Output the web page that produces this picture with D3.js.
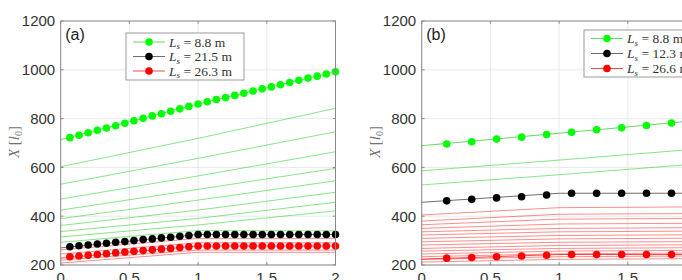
<!DOCTYPE html>
<html>
<head>
<meta charset="utf-8">
<script src="https://cdn.jsdelivr.net/npm/d3@7"></script>
<style>
  body { margin: 0; background: #fff; }
  svg { display: block; }
</style>
</head>
<body>
<script>
// shared axes
var lineX = [0, 1, 2];
var xTicks = [0, 0.5, 1, 1.5, 2];
var yTicks = [200, 400, 600, 800, 1000, 1200];

// panel (a)
var markXA = [0.067, 0.133, 0.2, 0.267, 0.333, 0.4, 0.467, 0.533, 0.6, 0.667,
              0.733, 0.8, 0.867, 0.933, 1.0, 1.067, 1.133, 1.2, 1.267, 1.333,
              1.4, 1.467, 1.533, 1.6, 1.667, 1.733, 1.8, 1.867, 1.933, 2.0];
var greenDotsA = [722, 732, 742, 752, 761, 771, 781, 791, 801, 811, 820, 830, 840, 850, 860,
                  869, 878, 886, 895, 904, 913, 922, 930, 939, 948, 957, 966, 974, 983, 992];
var blackDotsA = [275, 279, 282, 286, 289, 293, 296, 300, 304, 307, 311, 314, 318, 321, 325,
                  325, 325, 325, 325, 325, 325, 325, 325, 325, 325, 325, 325, 325, 325, 325];
var redDotsA = [234, 237, 240, 243, 246, 250, 253, 256, 259, 262, 265, 268, 272, 275, 278,
                278, 278, 278, 278, 278, 278, 278, 278, 278, 278, 278, 278, 278, 278, 278];
var greenLineA = [714, 860, 992];
var blackLineA = [270, 325, 325];
var redLineA = [228, 278, 278];
var greenFanA = [[603, 719, 842], [531, 637, 746], [470, 565, 664], [425, 510, 596],
                 [390, 466, 545], [362, 425, 498], [337, 391, 457], [315, 364, 422],
                 [293, 341, 340]];
var redFanA = [[262, 309, 309], [245, 291, 291], [220, 261, 261], [208, 252, 252]];
var legendA = ["8.8", "21.5", "26.3"];

// panel (b)
var markXB = [0.182, 0.364, 0.545, 0.727, 0.909, 1.091, 1.273, 1.455, 1.636, 1.818, 2.0];
var greenDotsB = [696, 705, 716, 724, 735, 744, 754, 762, 772, 782, 792];
var blackDotsB = [463, 469, 475, 480, 487, 494, 494, 494, 494, 494, 494];
var redDotsB = [228, 231, 234, 237, 240, 243, 243, 243, 243, 243, 243];
var greenLineB = [689, 740, 792];
var blackLineB = [457, 494, 494];
var redLineB = [224, 243, 243];
var greenFanB = [[586, 630, 675], [528, 570, 614]];
var redFanB = [[405, 435, 438], [380, 408, 411], [365, 388, 391], [350, 368, 371],
               [336, 350, 353], [323, 336, 339], [309, 321, 324], [295, 307, 310],
               [282, 293, 296], [268, 280, 283], [257, 268, 271], [245, 257, 260],
               [234, 246, 249], [223, 234, 237], [212, 223, 226]];
var legendB = ["8.8", "12.3", "26.6"];

var GREEN = "#00ff00", BLACK = "#000000", RED = "#ff0000";

var svg = d3.select("body").append("svg")
    .attr("width", 682)
    .attr("height", 280);

function panel(cfg) {
  var x = d3.scaleLinear().domain([0, 2]).range([cfg.left, cfg.left + 274.8]);
  var y = d3.scaleLinear().domain([200, 1200]).range([265, 21]);
  var g = svg.append("g");

  // grid
  g.selectAll(".gx").data(xTicks).enter().append("line")
      .attr("x1", function(d) { return x(d); }).attr("x2", function(d) { return x(d); })
      .attr("y1", y(200)).attr("y2", y(1200))
      .attr("stroke", "#e3e3e3").attr("stroke-width", 0.8);
  g.selectAll(".gy").data(yTicks).enter().append("line")
      .attr("x1", x(0)).attr("x2", x(2))
      .attr("y1", function(d) { return y(d); }).attr("y2", function(d) { return y(d); })
      .attr("stroke", "#e3e3e3").attr("stroke-width", 0.8);

  var line = d3.line()
      .x(function(d, i) { return x(lineX[i]); })
      .y(function(d) { return y(d); });

  // thin fan lines
  g.selectAll(".fg").data(cfg.greenFan).enter().append("path")
      .attr("d", line).attr("fill", "none")
      .attr("stroke", "#22cc22").attr("stroke-opacity", 0.6).attr("stroke-width", 0.9);
  g.selectAll(".fr").data(cfg.redFan).enter().append("path")
      .attr("d", line).attr("fill", "none")
      .attr("stroke", RED).attr("stroke-opacity", 0.5).attr("stroke-width", 0.9);

  // series with markers
  var series = [
    { line: cfg.greenLine, dots: cfg.greenDots, color: GREEN, lc: "#22cc22" },
    { line: cfg.blackLine, dots: cfg.blackDots, color: BLACK, lc: "#333" },
    { line: cfg.redLine, dots: cfg.redDots, color: RED, lc: RED }
  ];
  series.forEach(function(s) {
    g.append("path").attr("d", line(s.line)).attr("fill", "none")
        .attr("stroke", s.lc).attr("stroke-opacity", 0.8).attr("stroke-width", 0.9);
    g.selectAll(null).data(s.dots).enter().append("circle")
        .attr("cx", function(d, i) { return x(cfg.markX[i]); })
        .attr("cy", function(d) { return y(d); })
        .attr("r", 3.8)
        .attr("fill", s.color);
  });

  // box and ticks
  g.append("rect")
      .attr("x", x(0)).attr("y", y(1200))
      .attr("width", x(2) - x(0)).attr("height", y(200) - y(1200))
      .attr("fill", "none").attr("stroke", "#8a8a8a").attr("stroke-width", 1);
  var tl = 2.8;
  xTicks.forEach(function(t) {
    g.append("line").attr("x1", x(t)).attr("x2", x(t)).attr("y1", y(200)).attr("y2", y(200) - tl)
        .attr("stroke", "#8a8a8a");
    g.append("line").attr("x1", x(t)).attr("x2", x(t)).attr("y1", y(1200)).attr("y2", y(1200) + tl)
        .attr("stroke", "#8a8a8a");
  });
  yTicks.forEach(function(t) {
    g.append("line").attr("x1", x(0)).attr("x2", x(0) + tl).attr("y1", y(t)).attr("y2", y(t))
        .attr("stroke", "#8a8a8a");
    g.append("line").attr("x1", x(2)).attr("x2", x(2) - tl).attr("y1", y(t)).attr("y2", y(t))
        .attr("stroke", "#8a8a8a");
  });

  // tick labels
  g.selectAll(".ty").data(yTicks).enter().append("text")
      .attr("x", x(0) - 5.5).attr("y", function(d) { return y(d); })
      .attr("dy", "0.36em")
      .attr("text-anchor", "end")
      .attr("font-family", "Liberation Sans, Arial, sans-serif")
      .attr("font-size", 15).attr("fill", "#333")
      .text(function(d) { return d; });
  g.selectAll(".tx").data(xTicks).enter().append("text")
      .attr("x", function(d) { return x(d); }).attr("y", 283)
      .attr("text-anchor", "middle")
      .attr("font-family", "Liberation Sans, Arial, sans-serif")
      .attr("font-size", 15).attr("fill", "#333")
      .text(function(d) { return d; });

  // y label  X [l_0]
  var yl = g.append("text")
      .attr("transform", "translate(" + cfg.ylabX + ",142) rotate(-90)")
      .attr("text-anchor", "middle")
      .attr("font-family", "Liberation Serif, DejaVu Serif, serif")
      .attr("font-size", 15).attr("fill", "#707070");
  yl.append("tspan").attr("font-style", "italic").text("X");
  yl.append("tspan").text(" [");
  yl.append("tspan").attr("font-style", "italic").text("l");
  yl.append("tspan").attr("font-size", 10).attr("dy", 3).text("0");
  yl.append("tspan").attr("dy", -3).text("]");

  // panel letter
  g.append("text")
      .attr("x", x(0) + 4.5).attr("y", 40)
      .attr("font-family", "Liberation Sans, Arial, sans-serif")
      .attr("font-size", 16).attr("fill", "#222")
      .text(cfg.letter);

  // legend
  var lg = cfg.leg;
  g.append("rect")
      .attr("x", lg.x).attr("y", lg.y).attr("width", 118).attr("height", lg.h)
      .attr("fill", "#fff").attr("stroke", "#9a9a9a").attr("stroke-width", 1);
  series.forEach(function(s, i) {
    var ry = lg.y + lg.r0 + i * lg.dr;
    g.append("line").attr("x1", lg.x + 7).attr("x2", lg.x + 39).attr("y1", ry).attr("y2", ry)
        .attr("stroke", s.lc).attr("stroke-opacity", 0.8).attr("stroke-width", 0.9);
    g.append("circle").attr("cx", lg.x + 23).attr("cy", ry).attr("r", 3.8).attr("fill", s.color);
    var t = g.append("text")
        .attr("x", lg.x + 43).attr("y", ry + 4.5)
        .attr("font-family", "Liberation Serif, DejaVu Serif, serif")
        .attr("font-size", 13.5).attr("fill", "#333");
    t.append("tspan").attr("font-style", "italic").text("L");
    t.append("tspan").attr("font-style", "italic").attr("font-size", 9).attr("dy", 2.5).text("s");
    t.append("tspan").attr("dy", -2.5).text(" = " + cfg.legendText[i] + " m");
  });
}

panel({
  left: 60.7, letter: "(a)", ylabX: 18.5,
  markX: markXA, greenDots: greenDotsA, blackDots: blackDotsA, redDots: redDotsA,
  greenLine: greenLineA, blackLine: blackLineA, redLine: redLineA,
  greenFan: greenFanA, redFan: redFanA, legendText: legendA,
  leg: { x: 126, y: 33, h: 47, r0: 9, dr: 14.5 }
});

panel({
  left: 421.7, letter: "(b)", ylabX: 379.5,
  markX: markXB, greenDots: greenDotsB, blackDots: blackDotsB, redDots: redDotsB,
  greenLine: greenLineB, blackLine: blackLineB, redLine: redLineB,
  greenFan: greenFanB, redFan: redFanB, legendText: legendB,
  leg: { x: 584, y: 30, h: 47, r0: 8.5, dr: 15 }
});
</script>
</body>
</html>
